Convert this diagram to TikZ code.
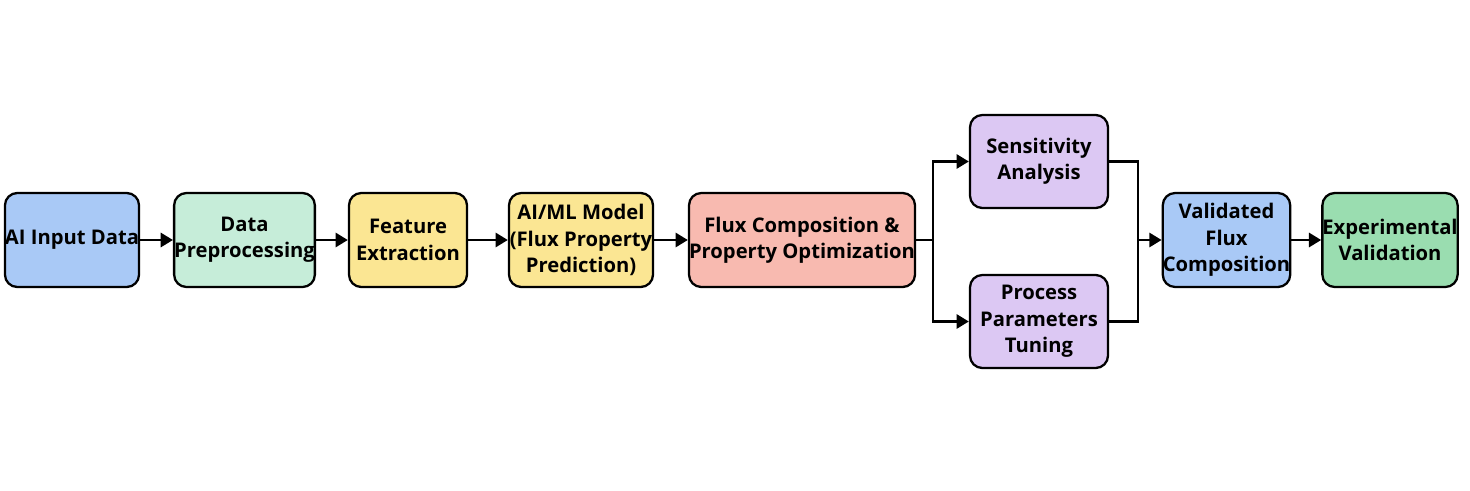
\documentclass[tikz,border=0pt]{standalone}
\usepackage{fontspec}
\setmainfont{Open Sans}
\usetikzlibrary{arrows.meta}
\definecolor{cblue}{HTML}{A9C9F6}
\definecolor{cgreen}{HTML}{C6EDD9}
\definecolor{cyellow}{HTML}{FBE693}
\definecolor{csalmon}{HTML}{F8BAB0}
\definecolor{cpurple}{HTML}{DCC8F3}
\definecolor{cdgreen}{HTML}{9ADDB0}
\begin{document}
\begin{tikzpicture}[x=0.02cm,y=-0.02cm,
 box/.style={draw=black,line width=1.3pt,rounded corners=7pt,align=center,inner sep=0pt,
   font=\fontsize{11.5}{15}\selectfont\bfseries},
 arr/.style={line width=1.6pt,-{Triangle[length=7pt,width=8pt]}},
 ln/.style={line width=1.6pt}]
\useasboundingbox (0,0) rectangle (1470,490);
\newcommand{\bx}[7]{\node[box,fill=#6,minimum width=#4*0.02cm,minimum height=#5*0.02cm] (#1) at (#2,#3) {#7};}
\bx{a}{72}{240}{128}{94}{cblue}{AI Input Data}
\bx{b}{244.5}{240}{133}{94}{cgreen}{Data\\Preprocessing}
\bx{c}{408}{240}{118}{94}{cyellow}{Feature\\Extraction}
\bx{d}{581}{240}{144}{94}{cyellow}{AI/ML Model\\(Flux Property\\Prediction)}
\bx{e}{802}{240}{210}{94}{csalmon}{Flux Composition \&\\Property Optimization}
\bx{f}{1039}{161.5}{138}{93}{cpurple}{Sensitivity\\Analysis}
\bx{g}{1039}{321.5}{138}{93}{cpurple}{Process\\Parameters\\Tuning}
\bx{h}{1226.5}{240}{113}{94}{cblue}{Validated\\Flux\\Composition}
\bx{i}{1390}{240}{126}{94}{cdgreen}{Experimental\\Validation}
\draw[arr] (a) -- (b);
\draw[arr] (b) -- (c);
\draw[arr] (c) -- (d);
\draw[arr] (d) -- (e);
\coordinate (s) at (933,240);
\coordinate (m) at (1138,240);
\draw[ln] (e.east) -- (s);
\draw[arr] (s) |- (f.west);
\draw[arr] (s) |- (g.west);
\draw[ln] (f.east) -| (m);
\draw[ln] (g.east) -| (m);
\draw[arr] (m) -- (h.west);
\draw[arr] (h) -- (i);
\end{tikzpicture}
\end{document}
